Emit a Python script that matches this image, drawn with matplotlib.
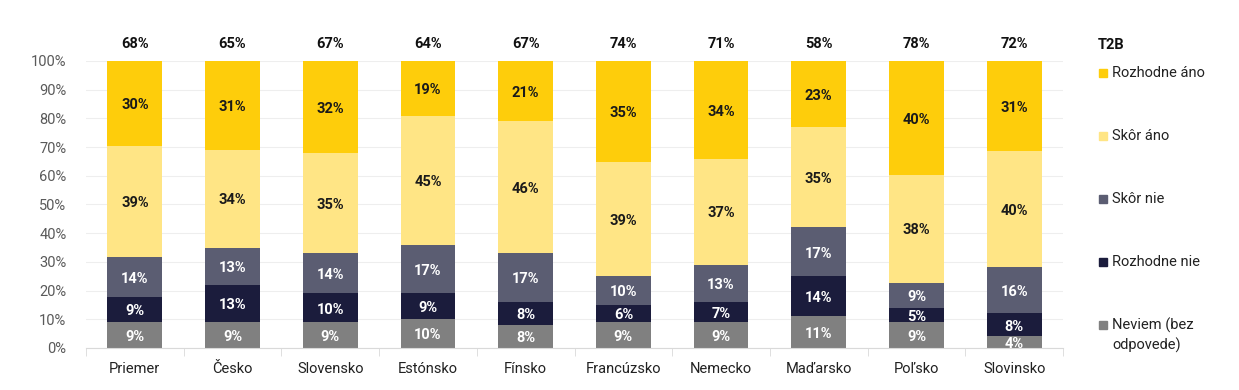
import matplotlib
matplotlib.use('Agg')
import matplotlib.pyplot as plt
import numpy as np
from matplotlib.patches import Rectangle

plt.rcParams['font.family'] = ['Roboto', 'DejaVu Sans']

countries = ['Priemer', 'Česko', 'Slovensko', 'Estónsko', 'Fínsko',
             'Francúzsko', 'Nemecko', 'Maďarsko', 'Poľsko', 'Slovinsko']
neviem = [9, 9, 9, 10, 8, 9, 9, 11, 9, 4]
rozhodne_nie = [9, 13, 10, 9, 8, 6, 7, 14, 5, 8]
skor_nie = [14, 13, 14, 17, 17, 10, 13, 17, 9, 16]
skor_ano = [39, 34, 35, 45, 46, 39, 37, 35, 38, 40]
rozhodne_ano = [30, 31, 32, 19, 21, 35, 34, 23, 40, 31]
t2b = [68, 65, 67, 64, 67, 74, 71, 58, 78, 72]

series = [
    ('Neviem (bez\nodpovede)', neviem, '#808080', 'white'),
    ('Rozhodne nie', rozhodne_nie, '#1b1c3c', 'white'),
    ('Skôr nie', skor_nie, '#5b5d72', 'white'),
    ('Skôr áno', skor_ano, '#ffe585', '#1a1a1a'),
    ('Rozhodne áno', rozhodne_ano, '#fecd0b', '#1a1a1a'),
]

fig = plt.figure(figsize=(12.39, 3.9), dpi=100)
ax = fig.add_axes([0.0694, 0.1077, 0.7886, 0.7359])

x = np.arange(len(countries))
totals = np.sum([s[1] for s in series], axis=0)
bottom = np.zeros(len(countries))
for name, vals, color, tcol in series:
    h = np.array(vals) / totals * 100
    ax.bar(x, h, 0.56, bottom=bottom, color=color, zorder=2)
    for xi, hi, bi, v in zip(x, h, bottom, vals):
        ax.text(xi, bi + hi / 2 - 0.6, f'{v}%', ha='center', va='center',
                color=tcol, fontsize=10.5, fontweight='bold', zorder=3)
    bottom += h

for xi, v in zip(x, t2b):
    ax.text(xi, 106, f'{v}%', ha='center', va='center', fontsize=10.5,
            fontweight='bold', color='#111111', clip_on=False)

ax.set_xlim(-0.5, len(countries) - 0.5)
ax.set_ylim(0, 100)
ax.set_yticks(np.arange(0, 101, 10))
ax.set_yticklabels([f'{v}%' for v in range(0, 101, 10)], color='#5a5a5a', fontsize=10.5)
ax.set_xticks(x)
ax.set_xticklabels(countries, fontsize=10.5, color='#222222')
ax.set_xticks(np.arange(-0.5, len(countries)), minor=True)
ax.tick_params(axis='x', which='major', length=0, pad=10)
ax.tick_params(axis='x', which='minor', length=6, color='#d9d9d9')
ax.tick_params(axis='y', length=0, pad=14)
ax.grid(axis='y', color='#eeeeee', linewidth=0.8, zorder=0)
for sp in ['top', 'right', 'left']:
    ax.spines[sp].set_visible(False)
ax.spines['bottom'].set_color('#d9d9d9')

# legend
W, H = 1239, 390
fig.text(1098 / W, 1 - 45 / H, 'T2B', fontsize=10.5, fontweight='bold',
         va='center', ha='left', color='#111111')
leg_y = [73, 136, 199, 262, 325]
for (name, vals, color, tcol), ly in zip(series[::-1], leg_y):
    fig.patches.append(Rectangle((1099 / W, 1 - (ly + 4) / H), 8 / W, 8 / H,
                                 transform=fig.transFigure, color=color))
    fig.text(1112 / W, 1 - ly / H, name.split('\n')[0], fontsize=10.5,
             va='center', ha='left', color='#222222')
    if '\n' in name:
        fig.text(1112 / W, 1 - (ly + 20) / H, name.split('\n')[1], fontsize=10.5,
                 va='center', ha='left', color='#222222')

fig.savefig('out.png', dpi=100)
